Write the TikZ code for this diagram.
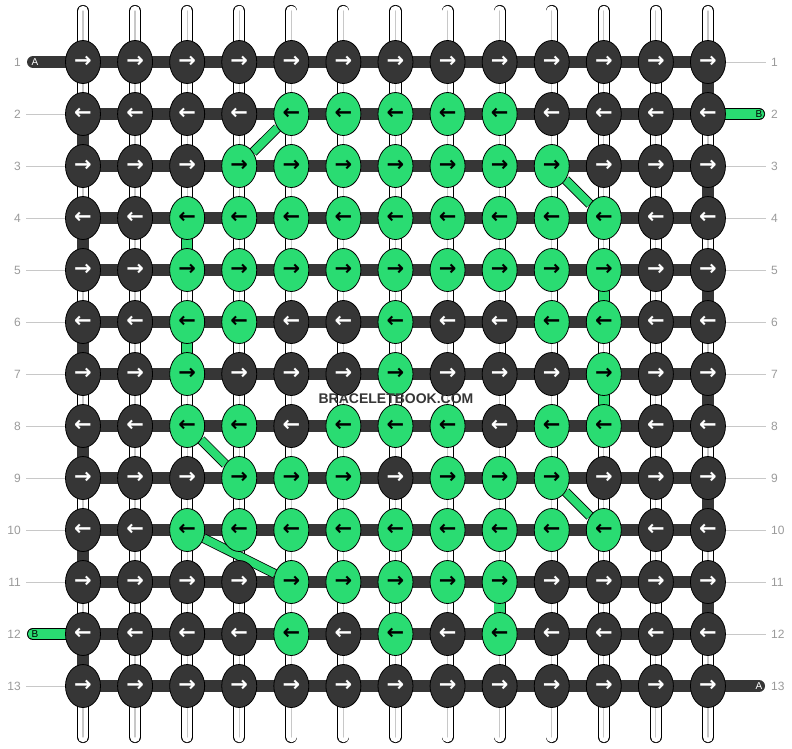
\documentclass[tikz,border=0pt]{standalone}
\usepackage{fontspec}
\usepackage{xstring}
\setmainfont{Liberation Sans}
\newfontfamily\arrowfont{DejaVu Sans}
\usetikzlibrary{shapes.geometric,backgrounds}

\definecolor{knotdark}{HTML}{363636}
\definecolor{knotgreen}{HTML}{2ADC72}
\definecolor{rowgray}{HTML}{9A9A9A}
\definecolor{linegray}{HTML}{C8C8C8}

\tikzset{
  knot/.style={ellipse, draw=black, line width=0.8pt, minimum width=35pt,
    minimum height=43pt, inner sep=0pt,
    font=\arrowfont\bfseries\fontsize{21}{21}\selectfont},
  dknot/.style={knot, fill=knotdark, text=white},
  gknot/.style={knot, fill=knotgreen, text=black},
  warp/.style={draw=black, line width=0.8pt, double=white,
    double distance=10.5pt, line cap=round},
  warpmid/.style={draw=linegray, line width=1.2pt, line cap=round},
  weft/.style={draw=knotdark, line width=12pt, line cap=round},
  greenweft/.style={draw=black, line width=0.8pt, double=knotgreen,
    double distance=10.5pt, line cap=round},
  crossing/.style={draw=black, line width=0.8pt, double=knotgreen,
    double distance=8pt},
  tick/.style={draw=linegray, line width=1pt},
  rownum/.style={text=rowgray, font=\fontsize{12}{12}\selectfont, inner sep=0pt},
  endlabel/.style={font=\fontsize{10}{10}\selectfont, inner sep=0pt}
}

\begin{document}
\begin{tikzpicture}[x=1pt, y=-1pt]
  \useasboundingbox (0,0) rectangle (792,748);

  % knots, green columns listed per row
  \foreach \r/\greens in {1/{0}, 2/{5,6,7,8,9}, 3/{4,5,6,7,8,9,10},
      4/{3,4,5,6,7,8,9,10,11}, 5/{3,4,5,6,7,8,9,10,11}, 6/{3,4,7,10,11},
      7/{3,7,11}, 8/{3,4,6,7,8,10,11}, 9/{4,5,6,8,9,10},
      10/{3,4,5,6,7,8,9,10,11}, 11/{5,6,7,8,9}, 12/{5,7,9}, 13/{0}}{
    \ifodd\r\relax \def\karrow{→}\else \def\karrow{←}\fi
    \foreach \c in {1,...,13}{
      \IfSubStr{,\greens,}{,\c,}{\def\kstyle{gknot}}{\def\kstyle{dknot}}
      \node[\kstyle] (k-\r-\c) at ({83+52.08*(\c-1)},{62+52*(\r-1)}) {\karrow};
    }
  }

  % row numbers
  \foreach \r in {1,...,13}{
    \node[rownum, anchor=east] (num-l-\r) at (21,{62+52*(\r-1)}) {\r};
    \node[rownum, anchor=west] (num-r-\r) at (771,{62+52*(\r-1)}) {\r};
    \coordinate (tick-l-\r) at (26,{62+52*(\r-1)});
    \coordinate (tick-r-\r) at (766,{62+52*(\r-1)});
  }

  % loose ends
  \coordinate (a-in) at (33,62);
  \coordinate (a-out) at (759,686);
  \coordinate (b-in) at (33,634);
  \coordinate (b-out) at (759,114);
  \node[endlabel, text=white] (lbl-a-in) at (35,62) {A};
  \node[endlabel, text=white] (lbl-a-out) at (759,686) {A};
  \node[endlabel, text=black] (lbl-b-in) at (35,634) {B};
  \node[endlabel, text=black] (lbl-b-out) at (759,114) {B};

  \begin{pgfonlayer}{background}
    % warp threads
    \foreach \c in {1,...,13}{
      \coordinate (top-\c) at ({83+52.08*(\c-1)},11);
      \coordinate (bot-\c) at ({83+52.08*(\c-1)},737);
      \draw[warp] (top-\c) -- (bot-\c);
      \draw[warpmid] (top-\c) -- (bot-\c);
    }

    \foreach \r in {2,3,4,5,6,7,8,9,10,11,13}
      \draw[tick] (tick-l-\r) -- (k-\r-1);
    \foreach \r in {1,3,4,5,6,7,8,9,10,11,12}
      \draw[tick] (k-\r-13) -- (tick-r-\r);

    % rows
    \foreach \r in {1,...,13}
      \foreach \c [count=\n from 2] in {1,...,12}
        \draw[weft] (k-\r-\c) -- (k-\r-\n);

    % turns at the edges
    \foreach \r [evaluate=\r as \n using int(\r+1)] in {2,4,...,12}
      \draw[weft] (k-\r-1) -- (k-\n-1);
    \foreach \r [evaluate=\r as \n using int(\r+1)] in {1,3,...,11}
      \draw[weft] (k-\r-13) -- (k-\n-13);

    \draw[weft] (a-in) -- (k-1-1);
    \draw[weft] (k-13-13) -- (a-out);
    \draw[greenweft] (k-2-13) -- (b-out);
    \draw[greenweft] (b-in) -- (k-12-1);

    % green carried down
    \foreach \c/\r/\n in {3/4/5, 3/6/7, 11/5/6, 11/7/8, 9/11/12}
      \draw[greenweft] (k-\r-\c) -- (k-\n-\c);

    % green carried across
    \foreach \a/\b in {2-5/3-4, 3-10/4-11, 8-3/9-4, 10-3/11-5, 9-10/10-11}
      \draw[crossing] (k-\a) -- (k-\b);
  \end{pgfonlayer}

  \node[text=knotdark, font=\bfseries\fontsize{14}{14}\selectfont, inner sep=0pt]
    (brand) at (396,399) {BRACELETBOOK.COM};
\end{tikzpicture}
\end{document}
